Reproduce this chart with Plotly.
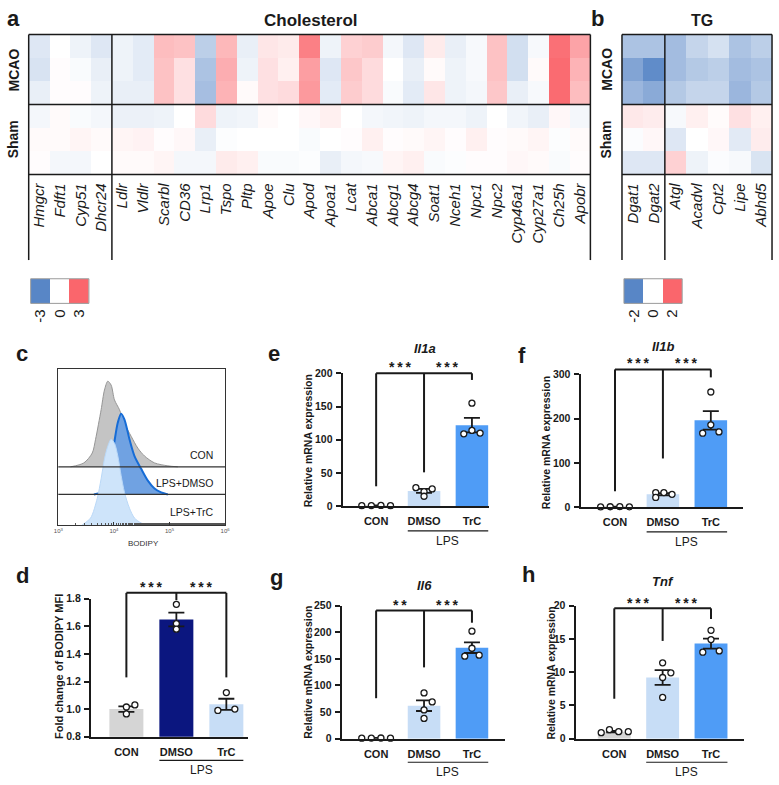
import plotly.graph_objects as go

W, H = 779, 785
FONT = "Liberation Sans, Arial, Helvetica, sans-serif"
INK = "#1a1a1a"

# ======================= DATA =======================
chol_genes = ["Hmgcr", "Fdft1", "Cyp51", "Dhcr24", "Ldlr", "Vldlr", "Scarbl", "CD36", "Lrp1",
              "Tspo", "Pltp", "Apoe", "Clu", "Apod", "Apoa1", "Lcat", "Abca1", "Abcg1", "Abcg4",
              "Soat1", "Nceh1", "Npc1", "Npc2", "Cyp46a1", "Cyp27a1", "Ch25h", "Apobr"]
chol_mcao = [
    [-0.6, 0.0, -0.3, -0.6, -0.3, -0.5, 1.3, 1.2, -1.2, 1.4, -0.4, 0.5, 0.4, 2.5, -0.3, 0.9, 1.0, -0.2, -0.6, 0.4, -0.4, -0.15, 1.2, -0.8, -0.15, 2.8, 1.8],
    [-0.7, 0.05, -0.1, -0.4, -0.3, -0.5, 1.2, 0.6, -1.5, 1.6, -0.3, 0.6, 0.3, 1.9, -0.6, 1.1, 0.7, 0.0, -0.4, 0.1, -0.3, -0.15, 1.2, -0.8, 0.1, 2.9, 1.5],
    [-0.4, 0.05, 0.05, -0.3, -0.4, -0.4, 1.2, 0.6, -1.6, 1.5, 0.1, 0.6, 0.7, 2.0, -0.5, 1.0, 0.7, -0.1, -0.5, 0.5, -0.3, -0.2, 1.1, -0.4, -0.15, 2.9, 1.3],
]
chol_sham = [
    [-0.2, 0.1, -0.1, -0.2, -0.35, -0.35, -0.3, 0.0, 0.7, -0.3, -0.25, 0.1, 0.0, 0.15, 0.3, 0.0, -0.2, -0.25, -0.3, -0.2, -0.2, -0.3, 0.0, -0.25, -0.4, 0.15, -0.2],
    [0.1, 0.1, 0.2, 0.1, 0.2, 0.25, 0.05, 0.15, -0.4, -0.05, 0.0, 0.0, 0.0, -0.1, 0.0, 0.05, 0.3, 0.05, 0.1, 0.2, 0.05, 0.3, 0.05, 0.1, 0.2, -0.05, 0.1],
    [0.05, -0.2, -0.2, 0.0, 0.1, 0.1, 0.2, -0.2, -0.2, 0.4, 0.3, -0.1, -0.1, -0.05, -0.4, -0.2, -0.15, 0.2, 0.3, -0.1, -0.05, 0.05, 0.05, 0.15, 0.1, -0.1, 0.05],
]
tg_genes = ["Dgat1", "Dgat2", "Atgl", "Acadvl", "Cpt2", "Lipe", "Abhd5"]
tg_mcao = [
    [-1.0, -1.0, -1.1, -0.7, -0.5, -1.0, -0.8],
    [-1.5, -1.9, -1.1, -0.9, -0.8, -1.1, -1.0],
    [-1.2, -1.4, -0.9, -0.7, -0.7, -1.2, -0.9],
]
tg_sham = [
    [0.3, 0.25, -0.1, 0.2, 0.05, 0.4, 0.2],
    [-0.05, 0.1, -0.4, 0.0, 0.1, -0.35, 0.25],
    [-0.4, -0.4, 0.6, -0.2, -0.05, -0.1, -0.45],
]
chol_scale = [-3, 0, 3]
tg_scale = [-2, 0, 2]
row_groups = ["MCAO", "Sham"]

# flow cytometry histograms (log10 BODIPY intensity, event height)
flow_names = ["CON", "LPS+DMSO", "LPS+TrC"]
flow_con_log = [3.22, 3.46, 3.61, 3.67, 3.77, 3.83, 3.89, 3.95, 4.01, 4.10, 4.19, 4.31, 4.43, 4.55, 4.73, 4.97, 5.15]
flow_con_cnt = [0, 4, 14, 28, 58, 78, 87, 83, 68, 58, 44, 31, 19, 11, 4, 1, 0]
flow_dmso_log = [3.64, 3.80, 3.89, 3.95, 4.01, 4.07, 4.13, 4.19, 4.28, 4.37, 4.49, 4.61, 4.73, 4.85, 4.97]
flow_dmso_cnt = [0, 3, 13, 33, 54, 73, 82, 76, 56, 39, 26, 14, 6, 2, 0]
flow_trc_log = [3.43, 3.58, 3.70, 3.77, 3.83, 3.89, 3.95, 4.01, 4.07, 4.13, 4.19, 4.28, 4.37, 4.49, 4.61]
flow_trc_cnt = [0, 7, 27, 47, 67, 80, 87, 83, 70, 50, 33, 17, 7, 2, 0]
flow_ticks = [3, 4, 5, 6]

groups = ["CON", "DMSO", "TrC"]
d_mean = [1.00, 1.65, 1.035]
d_sem = [0.02, 0.05, 0.04]
d_points = [[0.965, 1.015, 1.03], [1.76, 1.62, 1.58], [1.12, 0.99, 1.00]]
d_ticks = [0.8, 1.0, 1.2, 1.4, 1.6, 1.8]

e_mean = [1.0, 23, 122]
e_sem = [0.1, 3, 11]
e_points = [[0.8, 1.0, 1.2, 0.9], [28, 26, 22, 15], [155, 109, 114, 110]]
e_ticks = [0, 50, 100, 150, 200]

f_mean = [1.0, 29.5, 196]
f_sem = [0.2, 2.5, 21]
f_points = [[0.8, 1.0, 1.2, 0.9], [33, 33, 29, 22], [260, 186, 167, 170]]
f_ticks = [0, 100, 200, 300]

g_mean = [1.0, 62, 171]
g_sem = [0.2, 10, 10]
g_points = [[0.8, 1.0, 1.2, 0.9], [86, 69, 54, 38], [202, 170, 155, 157]]
g_ticks = [0, 50, 100, 150, 200, 250]

h_mean = [1.05, 9.2, 14.3]
h_sem = [0.1, 1.1, 0.75]
h_points = [[0.9, 1.35, 1.05, 1.05], [11.4, 9.9, 9.2, 6.2], [16.3, 14.9, 13.0, 13.2]]
h_ticks = [0, 5, 10, 15, 20]

# ======================= STYLE / LAYOUT =======================
BLUE = "rgb(88,134,198)"
RED = "rgb(250,102,108)"
CS = [[0, BLUE], [0.5, "white"], [1, RED]]
GREY = "#D5D5D5"
NAVY = "#0B167F"
LIGHTB = "#C7DDF6"
MIDB = "#4F9CF6"


def XP(x):
    return x / W


def YP(y):
    return 1 - y / H


def dom_x(a, b):
    return [a / W, b / W]


def dom_y(top, bottom):
    return [1 - bottom / H, 1 - top / H]


fig = go.Figure()
layout = dict(shapes=[], annotations=[])
shapes = layout["shapes"]
ann = layout["annotations"]


def line(x0, y0, x1, y1, color=INK, width=1.5):
    shapes.append(dict(type="line", xref="paper", yref="paper", x0=XP(x0), y0=YP(y0),
                       x1=XP(x1), y1=YP(y1), line=dict(color=color, width=width), layer="above"))


def text(x, y, s, size=12, weight="normal", style="normal", angle=0, xanchor="center",
         color=INK, yanchor="middle"):
    ann.append(dict(xref="paper", yref="paper", x=XP(x), y=YP(y), text=s, showarrow=False,
                    textangle=angle, xanchor=xanchor, yanchor=yanchor,
                    font=dict(family=FONT, size=size, color=color, weight=weight, style=style)))


# ---------------- heatmaps a / b ----------------
def heat(n, genes, mcao, sham, scale, box, n_first, label_bottom):
    L, R, T, B = box
    z = mcao + sham
    sfx = "" if n == 1 else str(n)
    fig.add_trace(go.Heatmap(z=z, x=list(range(len(genes))), y=list(range(len(z))),
                             colorscale=CS, zmin=scale[0], zmax=scale[-1], showscale=False,
                             hoverinfo="skip", xaxis="x" + sfx, yaxis="y" + sfx))
    layout["xaxis" + sfx] = dict(domain=dom_x(L, R), range=[-0.5, len(genes) - 0.5], anchor="y" + sfx,
                                 tickvals=list(range(len(genes))),
                                 ticktext=["<i>%s</i>" % g for g in genes], tickangle=-90,
                                 tickfont=dict(family=FONT, size=15, color=INK), ticks="",
                                 showline=False, showgrid=False, zeroline=False, ticklabelstandoff=5)
    layout["yaxis" + sfx] = dict(domain=dom_y(T, B), range=[len(z) - 0.5, -0.5], anchor="x" + sfx,
                                 showticklabels=False, ticks="", showline=False, showgrid=False,
                                 zeroline=False)
    mid = T + (B - T) * len(mcao) / len(z)
    xd = L + (R - L) * n_first / len(genes)
    for yy in (T, mid, B):
        line(L, yy, R, yy)
    for xx in (L, xd, R):
        line(xx, T, xx, label_bottom)
    return mid


mid_a = heat(1, chol_genes, chol_mcao, chol_sham, chol_scale, (24, 593, 29, 171), 4, 258)
heat(2, tg_genes, tg_mcao, tg_sham, tg_scale, (625, 777, 29, 171), 2, 258)
for xx in (9, 609):
    text(xx, (29 + mid_a) / 2, "MCAO", size=14, weight="bold", angle=-90)
    text(xx, (mid_a + 171) / 2, "Sham", size=14, weight="bold", angle=-90)
text(310, 15, "Cholesterol", size=17, weight="bold")
text(706, 15, "TG", size=16, weight="bold")


# colour keys
def key(n, scale, box):
    L, R, T, B = box
    fig.add_trace(go.Heatmap(z=[scale], x=[0, 1, 2], y=[0], colorscale=CS, zmin=scale[0],
                             zmax=scale[-1], showscale=False, hoverinfo="skip",
                             xaxis="x%d" % n, yaxis="y%d" % n))
    layout["xaxis%d" % n] = dict(domain=dom_x(L, R), range=[-0.5, 2.5], anchor="y%d" % n,
                                 tickvals=[0, 1, 2], ticktext=[str(v) for v in scale], tickangle=-90,
                                 tickfont=dict(family=FONT, size=15, color=INK), ticks="",
                                 showline=False, showgrid=False, zeroline=False, ticklabelstandoff=2)
    layout["yaxis%d" % n] = dict(domain=dom_y(T, B), range=[-0.5, 0.5], anchor="x%d" % n,
                                 showticklabels=False, ticks="", showgrid=False, zeroline=False)
    shapes.append(dict(type="rect", xref="paper", yref="paper", x0=XP(L), x1=XP(R), y0=YP(B), y1=YP(T),
                       line=dict(color="#9a9a9a", width=1)))


key(3, chol_scale, (26, 85, 277, 302))
key(4, tg_scale, (627, 686, 277, 302))

# ---------------- panel c (flow) ----------------
C_BOX = (54, 223, 369, 527)
C_RANGE = (0, 158)
C_BASE = {"CON": 59, "LPS+DMSO": 31, "LPS+TrC": 0}
flow_style = {
    "CON": ("rgb(196,196,196)", "rgb(150,150,150)", 1),
    "LPS+DMSO": ("rgb(112,162,226)", "rgb(22,108,214)", 2),
    "LPS+TrC": ("rgb(206,228,250)", "rgb(186,216,247)", 1),
}
flow_data = {"CON": (flow_con_log, flow_con_cnt), "LPS+DMSO": (flow_dmso_log, flow_dmso_cnt),
             "LPS+TrC": (flow_trc_log, flow_trc_cnt)}
for name in flow_names:
    lg, ct = flow_data[name]
    fill, lc, lw = flow_style[name]
    base = C_BASE[name]
    fig.add_trace(go.Scatter(x=[10 ** v for v in lg], y=[base + c for c in ct], mode="lines",
                             line=dict(color=lc, width=lw, shape="spline", smoothing=0.8),
                             fill="toself", fillcolor=fill, hoverinfo="skip",
                             xaxis="x5", yaxis="y5"))
layout["xaxis5"] = dict(domain=dom_x(C_BOX[0], C_BOX[1]), type="log",
                        range=[flow_ticks[0], flow_ticks[-1]], anchor="y5",
                        tickvals=[10 ** t for t in flow_ticks],
                        ticktext=["10<sup>%d</sup>" % t for t in flow_ticks],
                        tickfont=dict(family=FONT, size=6, color="#555"), ticks="inside", ticklen=3,
                        tickcolor="#333", minor=dict(ticks="inside", ticklen=2, tickcolor="#555"),
                        showline=True, linecolor="#333", linewidth=1, mirror=True,
                        showgrid=False, zeroline=False)
layout["yaxis5"] = dict(domain=dom_y(C_BOX[2], C_BOX[3]), range=list(C_RANGE), anchor="x5",
                        showticklabels=False, ticks="", showline=True, linecolor="#333",
                        linewidth=1, mirror=True, showgrid=False, zeroline=False)
for name in ("CON", "LPS+DMSO"):
    yy = C_BOX[3] - C_BASE[name]
    line(C_BOX[0], yy, C_BOX[1], yy, color="#333", width=1.2)
label_y = {"CON": 456, "LPS+DMSO": 484, "LPS+TrC": 514}
for name in flow_names:
    text(213, label_y[name], name, size=10.5, xanchor="right")
text(140, 546, "BODIPY", size=8, color="#333")

# ---------------- bar panels d-h ----------------
panels = [
    dict(n=6, mean=d_mean, sem=d_sem, pts=d_points, ticks=d_ticks, fmt="%.1f",
         colors=[GREY, NAVY, LIGHTB], box=(87, 246, 602, 742), xr=(-0.71, 2.43),
         off=[[0, 0, 0.17], [0, 0, 0], [0, -0.17, 0.17]],
         ytitle="Fold change of BODIPY MFI", yt=(54, 671), tsize=11, title=None, tpos=None,
         top=1.843, legs=[1.23, 1.79, 1.23], sig=["***", "***"], sy=587, ylps=766),
    dict(n=7, mean=e_mean, sem=e_sem, pts=e_points, ticks=e_ticks, fmt="%d",
         colors=[GREY, LIGHTB, MIDB], box=(342, 490, 373, 508), xr=(-0.70, 2.35),
         off=[[-0.3, -0.1, 0.1, 0.3], [-0.17, 0.17, 0, 0], [0, -0.17, 0, 0.17]],
         ytitle="Relative mRNA expression", yt=(307, 442), tsize=10.5, title="Il1a", tpos=(425, 348),
         top=200, legs=[30, 51, 190], sig=["***", "***"], sy=364, ylps=533),
    dict(n=8, mean=f_mean, sem=f_sem, pts=f_points, ticks=f_ticks, fmt="%d",
         colors=[GREY, LIGHTB, MIDB], box=(583, 748, 374, 509), xr=(-0.72, 2.68),
         off=[[-0.3, -0.1, 0.1, 0.3], [-0.15, 0.02, 0.19, -0.15], [0, 0, -0.17, 0.17]],
         ytitle="Relative mRNA expression", yt=(548, 443), tsize=10.5, title="Il1b", tpos=(667, 346),
         top=311, legs=[36, 110, 293], sig=["***", "***"], sy=360, ylps=534),
    dict(n=9, mean=g_mean, sem=g_sem, pts=g_points, ticks=g_ticks, fmt="%d",
         colors=[GREY, LIGHTB, MIDB], box=(341, 507, 609, 744), xr=(-0.72, 2.70),
         off=[[-0.3, -0.1, 0.1, 0.3], [0, 0.17, 0, 0], [0, 0, -0.15, 0.15]],
         ytitle="Relative mRNA expression", yt=(307, 677), tsize=10.5, title="Il6", tpos=(425, 588),
         top=241, legs=[76, 134, 218], sig=["**", "***"], sy=605, ylps=768),
    dict(n=10, mean=h_mean, sem=h_sem, pts=h_points, ticks=h_ticks, fmt="%d",
         colors=[GREY, LIGHTB, MIDB], box=(578, 749, 609, 744), xr=(-0.80, 2.69),
         off=[[-0.27, -0.1, 0.09, 0.29], [0, 0.17, 0, 0], [0, 0, -0.17, 0.17]],
         ytitle="Relative mRNA expression", yt=(553, 677), tsize=10.5, title="Tnf", tpos=(667, 584),
         top=19.6, legs=[6.0, 14.7, 18.0], sig=["***", "***"], sy=603, ylps=768),
]
BAR_W = 0.68
for p in panels:
    n = p["n"]
    L, R, T, B = p["box"]
    yr = (p["ticks"][0], p["ticks"][-1])
    xr = p["xr"]

    def bx(v, L=L, R=R, xr=xr):
        return L + (v - xr[0]) / (xr[1] - xr[0]) * (R - L)

    def by(v, T=T, B=B, yr=yr):
        return B - (v - yr[0]) / (yr[1] - yr[0]) * (B - T)

    xs = list(range(len(groups)))
    fig.add_trace(go.Bar(x=xs, y=p["mean"], width=BAR_W, marker=dict(color=p["colors"], line=dict(width=0)),
                         error_y=dict(type="data", array=p["sem"], color=INK, thickness=1.8, width=8),
                         hoverinfo="skip", xaxis="x%d" % n, yaxis="y%d" % n))
    for i, pts in enumerate(p["pts"]):
        fig.add_trace(go.Scatter(x=[i + o for o in p["off"][i]], y=pts, mode="markers",
                                 marker=dict(size=6, color="white", line=dict(color=INK, width=1.3)),
                                 cliponaxis=False, hoverinfo="skip",
                                 xaxis="x%d" % n, yaxis="y%d" % n))
    layout["xaxis%d" % n] = dict(domain=dom_x(L, R), range=list(xr), anchor="y%d" % n,
                                 tickvals=xs, ticktext=groups, ticks="",
                                 tickfont=dict(family=FONT, size=11, color=INK, weight="bold"),
                                 showline=True, linecolor=INK, linewidth=2, showgrid=False,
                                 zeroline=False, ticklabelstandoff=4)
    layout["yaxis%d" % n] = dict(domain=dom_y(T, B), range=list(yr), anchor="x%d" % n,
                                 tickvals=p["ticks"], ticktext=[p["fmt"] % t for t in p["ticks"]],
                                 tickfont=dict(family=FONT, size=10.5, color=INK, weight="bold"),
                                 ticks="outside", ticklen=5, tickwidth=2, tickcolor=INK,
                                 showline=True, linecolor=INK, linewidth=2, showgrid=False,
                                 zeroline=False, ticklabelstandoff=1)
    # significance bracket
    yt_ = by(p["top"])
    line(bx(0), by(p["legs"][0]), bx(0), yt_, width=2)
    line(bx(0), yt_, bx(2), yt_, width=2)
    line(bx(2), yt_, bx(2), by(p["legs"][2]), width=2)
    line(bx(1), yt_, bx(1), by(p["legs"][1]), width=2)
    for k, s in enumerate(p["sig"]):
        text(bx(0.5 + k), p["sy"] + 3, "\u2009".join(s), size=14, weight="bold")
    # LPS group line
    x0, x1 = bx(1 - BAR_W / 2), bx(2 + BAR_W / 2)
    line(x0, p["ylps"], x1, p["ylps"], width=1.2)
    text((x0 + x1) / 2, p["ylps"] + 10, "LPS", size=12)
    text(p["yt"][0], p["yt"][1], p["ytitle"], size=p["tsize"], weight="bold", angle=-90)
    if p["title"]:
        text(p["tpos"][0], p["tpos"][1], p["title"], size=13, weight="bold", style="italic")

# panel letters
for s, x, y in [("a", 9, 13), ("b", 600, 13), ("c", 17, 353), ("d", 18, 578),
                ("e", 272, 353), ("f", 524, 355), ("g", 275, 580), ("h", 530, 577)]:
    text(x, y, s, size=22, weight="bold")

fig.update_layout(**layout)
fig.update_layout(width=W, height=H, margin=dict(l=0, r=0, t=0, b=0), paper_bgcolor="white",
                  plot_bgcolor="white", showlegend=False, font=dict(family=FONT, color=INK))
fig.write_html("out.html", config={"displayModeBar": False},
               post_script="document.body.style.margin='0';document.body.style.overflow='hidden';")
